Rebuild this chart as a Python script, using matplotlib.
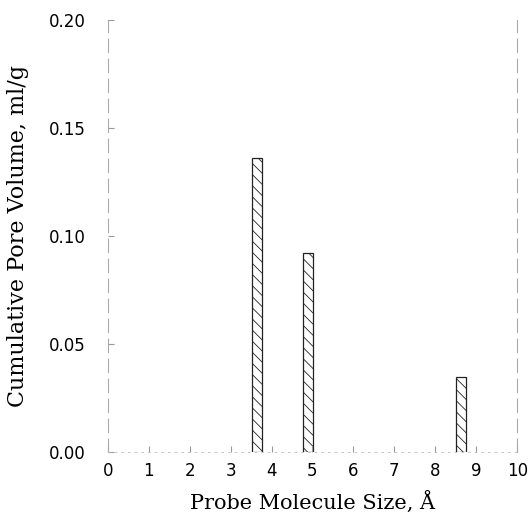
import matplotlib
matplotlib.use("Agg")
import matplotlib.pyplot as plt

# probe molecule sizes (A) and cumulative pore volume (ml/g)
probe_size = [3.65, 4.90, 8.63]
pore_volume = [0.136, 0.092, 0.035]
x_ticks = list(range(0, 11))
y_ticks = [0.00, 0.05, 0.10, 0.15, 0.20]

plt.rcParams['hatch.linewidth'] = 0.6

fig = plt.figure(figsize=(5.31, 5.18), dpi=100)
ax = fig.add_axes([0.203, 0.127, 0.771, 0.834])

ax.bar(probe_size, pore_volume, width=0.24, color='white',
       edgecolor='#222222', linewidth=0.9, hatch='\\\\\\')

ax.set_xlim(0, 10)
ax.set_ylim(0, 0.2)
ax.set_xticks(x_ticks)
ax.set_yticks(y_ticks)
ax.set_yticklabels([f"{v:.2f}" for v in y_ticks])
ax.tick_params(axis='both', labelsize=12, length=4, color='#999999', direction='in')
ax.tick_params(axis='x', pad=7)
ax.tick_params(axis='y', pad=16)
for lab in ax.get_xticklabels() + ax.get_yticklabels():
    lab.set_family('DejaVu Sans')

for side in ['left', 'right']:
    ax.spines[side].set_color('#aaaaaa')
    ax.spines[side].set_linewidth(0.8)
    ax.spines[side].set_linestyle((0, (12, 6)))
ax.spines['top'].set_visible(False)
ax.spines['bottom'].set_color('#bbbbbb')
ax.spines['bottom'].set_linewidth(0.6)
ax.spines['bottom'].set_linestyle((0, (2, 6)))

ax.set_xlabel("Probe Molecule Size, Å", fontsize=15, family='DejaVu Serif', labelpad=8)
ax.set_ylabel("Cumulative Pore Volume, ml/g", fontsize=16, family='DejaVu Serif', labelpad=14)

fig.savefig("out.png", dpi=100)
